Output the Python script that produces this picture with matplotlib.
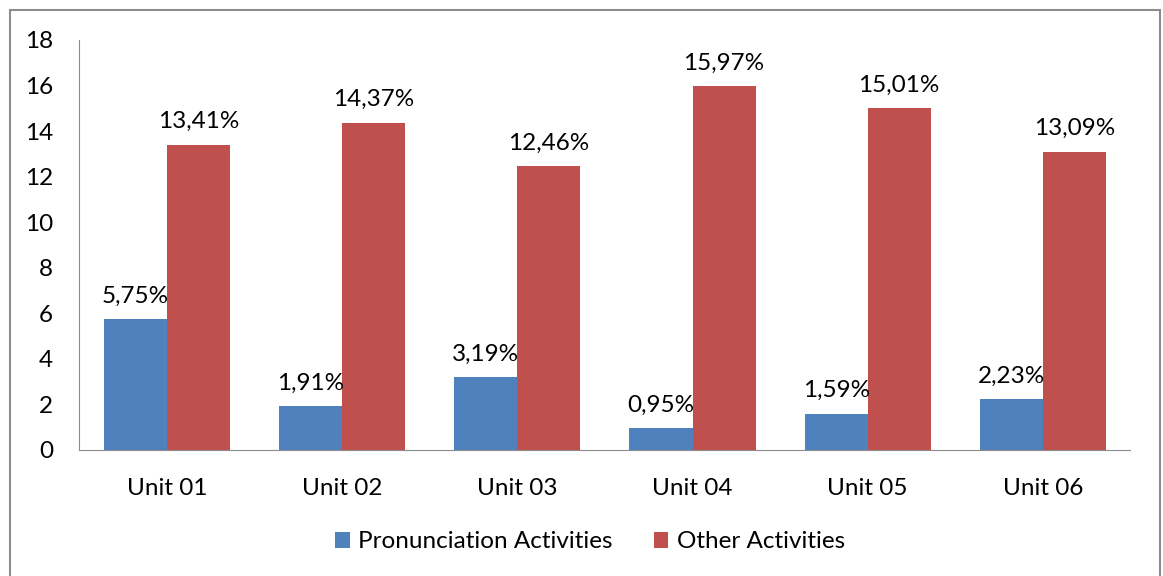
import numpy as np
import matplotlib.pyplot as plt
from matplotlib.patches import Rectangle

plt.rcParams['font.family'] = ['Lato', 'DejaVu Sans']

# data
units = ['Unit 01', 'Unit 02', 'Unit 03', 'Unit 04', 'Unit 05', 'Unit 06']
pronunciation = [5.75, 1.91, 3.19, 0.95, 1.59, 2.23]
other = [13.41, 14.37, 12.46, 15.97, 15.01, 13.09]
y_ticks = [0, 2, 4, 6, 8, 10, 12, 14, 16, 18]

blue = '#4F81BD'
red = '#C0504D'
fs = 17.5

fig = plt.figure(figsize=(11.63, 5.76), dpi=100)
ax = fig.add_axes([0.0683, 0.2188, 0.9037, 0.7118])

# outer chart frame
fig.patches.append(Rectangle((10/1163, -0.01), 1150/1163, 1 - 10/576 + 0.01,
                             transform=fig.transFigure, fill=False,
                             edgecolor='#8c8c8c', linewidth=1.5))

x = np.arange(len(units))
w = 0.36
b1 = ax.bar(x - w/2, pronunciation, w, color=blue, label='Pronunciation Activities')
b2 = ax.bar(x + w/2, other, w, color=red, label='Other Activities')

for bars, vals in ((b1, pronunciation), (b2, other)):
    for bar, v in zip(bars, vals):
        ax.annotate(f'{v:.2f}%'.replace('.', ','),
                    (bar.get_x() + bar.get_width()/2, v),
                    xytext=(0, 9), textcoords='offset points',
                    ha='center', va='bottom', fontsize=fs)

ax.set_xlim(-0.5, len(units) - 0.5)
ax.set_ylim(0, 18)
ax.set_yticks(y_ticks)
ax.set_xticks(x)
ax.set_xticklabels(units)
ax.tick_params(axis='both', length=0, labelsize=fs)
ax.tick_params(axis='y', pad=19)
ax.tick_params(axis='x', pad=20)
for s in ['top', 'right']:
    ax.spines[s].set_visible(False)
for s in ['left', 'bottom']:
    ax.spines[s].set_color('#8c8c8c')

fig.legend(handles=[b1, b2], loc='center', bbox_to_anchor=(590/1163, 1 - 542/576),
           ncol=2, frameon=False, fontsize=fs, handlelength=0.6, handleheight=0.6,
           columnspacing=1.7, handletextpad=0.35)

plt.savefig('out.png', dpi=100)
